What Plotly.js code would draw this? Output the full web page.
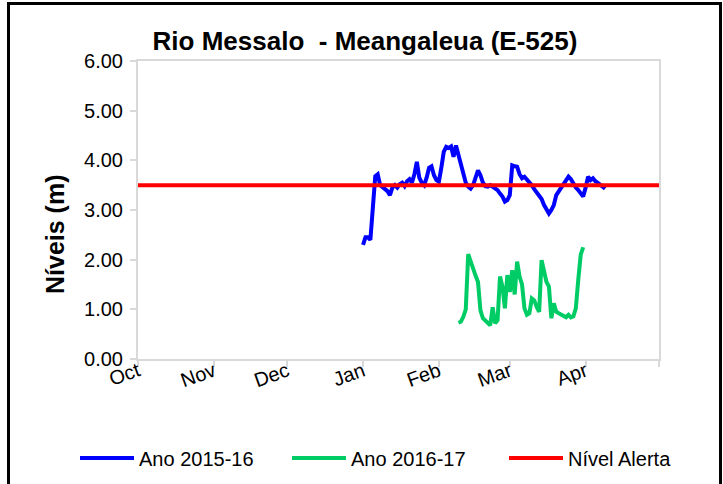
<!DOCTYPE html>
<html>
<head>
<meta charset="utf-8">
<script src="https://cdn.plot.ly/plotly-3.0.1.min.js"></script>
<style>
  html, body { margin: 0; padding: 0; background: #fff; }
  #wrap { position: relative; width: 723px; height: 484px; overflow: hidden; }
  #chart { width: 723px; height: 484px; }
  #frame { position: absolute; left: 7px; top: 2px; width: 715px; height: 600px;
           box-sizing: border-box; border: 3px solid #000; pointer-events: none; }
</style>
</head>
<body>
<div id="wrap"><div id="chart"></div><div id="frame"></div></div>
<script>
// ---- Data (season axis Oct–Apr; 2016-17 plotted on the same season axis) ----
const blueDates = [
  '2016-01-01','2016-01-02','2016-01-03','2016-01-04','2016-01-06','2016-01-07','2016-01-08','2016-01-09',
  '2016-01-10','2016-01-11','2016-01-12','2016-01-13','2016-01-14','2016-01-15','2016-01-16','2016-01-17',
  '2016-01-18','2016-01-19','2016-01-20','2016-01-21','2016-01-22','2016-01-23','2016-01-24','2016-01-25',
  '2016-01-26','2016-01-27','2016-01-28','2016-01-29','2016-01-30','2016-01-31','2016-02-01','2016-02-02',
  '2016-02-03','2016-02-04','2016-02-05','2016-02-06','2016-02-07','2016-02-08','2016-02-09','2016-02-10',
  '2016-02-11','2016-02-12','2016-02-13','2016-02-14','2016-02-15','2016-02-16','2016-02-17','2016-02-18',
  '2016-02-19','2016-02-20','2016-02-21','2016-02-22','2016-02-23','2016-02-24','2016-02-25','2016-02-26',
  '2016-02-27','2016-02-28','2016-02-29','2016-03-01','2016-03-02','2016-03-03','2016-03-04','2016-03-05',
  '2016-03-06','2016-03-07','2016-03-08','2016-03-09','2016-03-10','2016-03-11','2016-03-12','2016-03-13',
  '2016-03-14','2016-03-15','2016-03-16','2016-03-17','2016-03-18','2016-03-19','2016-03-20','2016-03-21',
  '2016-03-22','2016-03-23','2016-03-24','2016-03-25','2016-03-26','2016-03-27','2016-03-28','2016-03-29',
  '2016-03-30','2016-03-31','2016-04-01','2016-04-02','2016-04-03','2016-04-04','2016-04-05','2016-04-06',
  '2016-04-07','2016-04-08','2016-04-09'
];
const blueLevels = [
  2.30,2.45,2.45,2.40,3.68,3.72,3.50,3.45,
  3.42,3.38,3.30,3.45,3.50,3.45,3.52,3.55,
  3.48,3.58,3.62,3.55,3.72,3.97,3.65,3.55,
  3.50,3.65,3.85,3.88,3.70,3.60,3.57,3.85,
  4.17,4.27,4.25,4.28,4.07,4.30,4.10,3.90,
  3.72,3.55,3.47,3.43,3.50,3.68,3.80,3.70,
  3.55,3.48,3.47,3.50,3.47,3.43,3.40,3.33,
  3.27,3.17,3.20,3.30,3.90,3.88,3.87,3.72,
  3.64,3.67,3.62,3.55,3.50,3.42,3.35,3.30,
  3.22,3.10,3.00,2.93,3.00,3.10,3.30,3.37,
  3.43,3.50,3.60,3.67,3.62,3.52,3.45,3.40,
  3.33,3.27,3.45,3.67,3.60,3.64,3.58,3.55,
  3.50,3.47,3.43
];
const greenDates = [
  '2016-02-09','2016-02-10','2016-02-11','2016-02-12','2016-02-13','2016-02-14','2016-02-15','2016-02-16',
  '2016-02-17','2016-02-18','2016-02-19','2016-02-20','2016-02-21','2016-02-22','2016-02-23','2016-02-24',
  '2016-02-25','2016-02-26','2016-02-27','2016-02-28','2016-02-29','2016-03-01','2016-03-02','2016-03-03',
  '2016-03-04','2016-03-05','2016-03-06','2016-03-07','2016-03-08','2016-03-09','2016-03-10','2016-03-11',
  '2016-03-12','2016-03-13','2016-03-14','2016-03-15','2016-03-16','2016-03-17','2016-03-18','2016-03-19',
  '2016-03-20','2016-03-21','2016-03-22','2016-03-23','2016-03-24','2016-03-25','2016-03-26','2016-03-27',
  '2016-03-28','2016-03-29','2016-03-30','2016-03-31'
];
const greenLevels = [
  0.73,0.75,0.85,1.00,2.11,1.95,1.78,1.68,
  1.55,0.98,0.82,0.77,0.72,0.68,1.04,0.72,
  0.78,1.66,1.46,1.02,1.69,1.35,1.79,1.30,
  1.96,1.66,1.50,1.02,0.89,0.92,1.22,1.18,
  1.05,0.95,1.99,1.72,1.55,1.46,0.82,1.12,
  0.95,0.92,0.89,0.86,0.84,0.89,0.84,0.86,
  1.02,1.60,2.10,2.25
];
const alertDates = ['2015-10-01','2016-05-01'];
const alertLevels = [3.5, 3.5];
const monthTicks = ['2015-10-01','2015-11-01','2015-12-01','2016-01-01','2016-02-01','2016-03-01','2016-04-01','2016-05-01'];
const monthLabels = ['Oct','Nov','Dec','Jan','Feb','Mar','Apr',''];
const seriesNames = ['Ano 2015-16','Ano 2016-17','Nível Alerta'];
const titleText = 'Rio Messalo  - Meangaleua (E-525)';
const yTitle = 'Níveis (m)';

const FONT = 'Liberation Sans, Arial, sans-serif';
const traces = [
  {x: blueDates, y: blueLevels, name: seriesNames[0], type: 'scatter', mode: 'lines',
   line: {color: '#0000FF', width: 4}},
  {x: greenDates, y: greenLevels, name: seriesNames[1], type: 'scatter', mode: 'lines',
   line: {color: '#00CC66', width: 4}},
  {x: alertDates, y: alertLevels, name: seriesNames[2], type: 'scatter', mode: 'lines',
   line: {color: '#FF0000', width: 4}}
];
const layout = {
  width: 723, height: 484,
  margin: {l: 138, r: 64, t: 61, b: 125},
  paper_bgcolor: '#fff', plot_bgcolor: '#fff',
  font: {family: FONT, color: '#000', size: 20},
  title: {text: '<b>' + titleText + '</b>', font: {family: FONT, size: 26, color: '#000'},
          x: 365 / 723, xanchor: 'center', xref: 'container', y: 0.915, yanchor: 'middle'},
  xaxis: {type: 'date', range: ['2015-10-01','2016-05-01'], tickmode: 'array',
          tickvals: monthTicks, ticktext: monthLabels, tickangle: -20,
          showgrid: false, zeroline: false, showline: true, linecolor: '#d9d9d9', linewidth: 2,
          mirror: true, ticks: 'outside', ticklen: 6, tickcolor: '#d9d9d9', tickwidth: 2,
          ticklabelstandoff: -15, automargin: false,
          tickfont: {family: FONT, size: 20, color: '#000'}},
  yaxis: {range: [0, 6], tickmode: 'linear', tick0: 0, dtick: 1, tickformat: '.2f',
          showgrid: false, zeroline: false, showline: true, linecolor: '#d9d9d9', linewidth: 2,
          mirror: true, ticks: 'outside', ticklen: 6, tickcolor: '#d9d9d9', tickwidth: 2,
          ticklabelstandoff: 3, automargin: false,
          tickfont: {family: FONT, size: 20, color: '#000'}},
  annotations: [{text: '<b>' + yTitle + '</b>', xref: 'paper', yref: 'paper',
                 x: (55 - 138) / 521, y: (359 - 235) / 298, xanchor: 'center', yanchor: 'middle',
                 textangle: -90, showarrow: false, font: {family: FONT, size: 25, color: '#000'}}],
  showlegend: true,
  legend: {orientation: 'h', xref: 'container', yref: 'container',
           x: 75 / 723, xanchor: 'left', y: 1 - 458 / 484, yanchor: 'middle',
           font: {family: FONT, size: 20, color: '#000'}, bgcolor: 'rgba(0,0,0,0)',
           entrywidth: 110, entrywidthmode: 'pixels', traceorder: 'normal'}
};
const legendStep = [0, 212, 429];  // horizontal offsets of legend entries (px)
Plotly.newPlot('chart', traces, layout, {displayModeBar: false, staticPlot: true}).then(function (gd) {
  var sb = gd.querySelector('.legend .scrollbox');
  if (sb) sb.removeAttribute('clip-path');
  var items = gd.querySelectorAll('.legend .traces');
  var x0 = null, y0 = 0;
  items.forEach(function (g, i) {
    var m = /translate\(\s*([-\d.]+)[ ,]+([-\d.]+)\s*\)/.exec(g.getAttribute('transform') || '');
    if (m && x0 === null) { x0 = parseFloat(m[1]); y0 = parseFloat(m[2]); }
    g.setAttribute('transform', 'translate(' + ((x0 || 0) + legendStep[i]) + ',' + y0 + ')');
    g.querySelectorAll('.legendlines path').forEach(function (p) { p.setAttribute('d', 'M5,0h54'); });
    var t = g.querySelector('text.legendtext');
    if (t) t.setAttribute('x', '64');
  });
});
</script>
</body>
</html>
